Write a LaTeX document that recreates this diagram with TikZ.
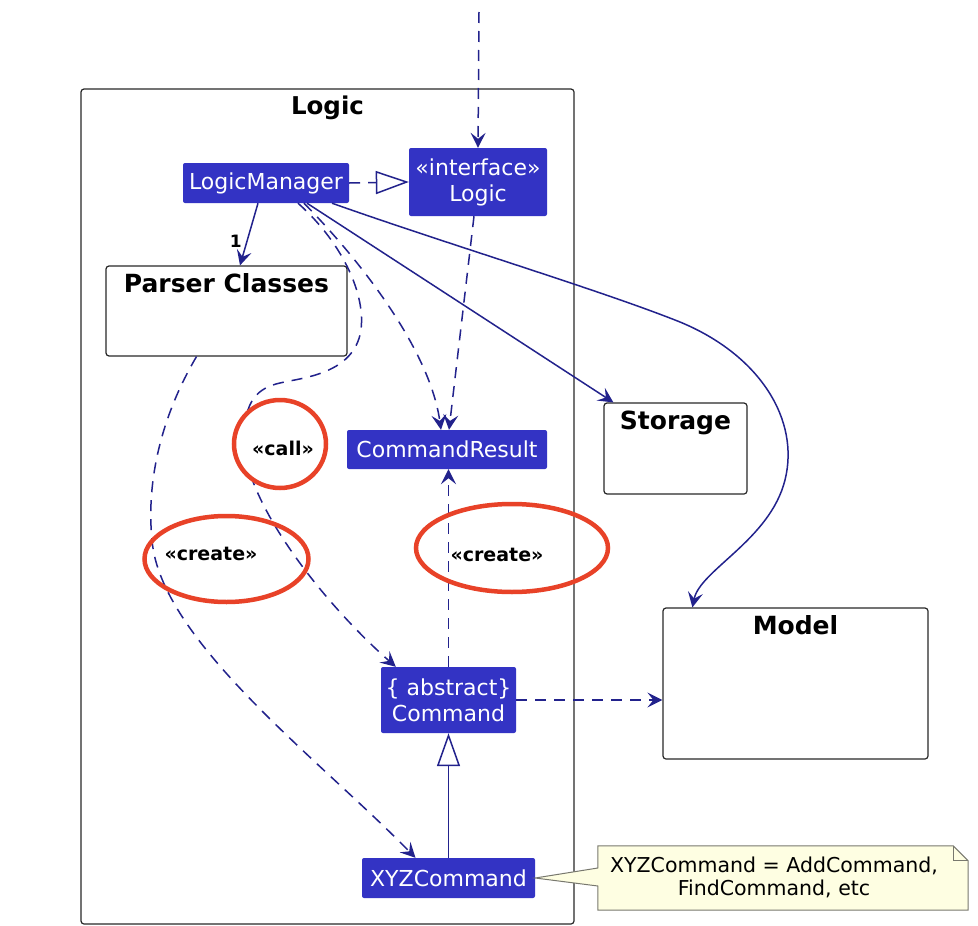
\documentclass[tikz,border=0pt]{standalone}
\usepackage{fontspec}
\setmainfont{DejaVu Sans}
\usetikzlibrary{arrows.meta,positioning,calc}
\definecolor{logicblue}{RGB}{51,51,196}
\definecolor{arrowblue}{RGB}{34,34,140}
\definecolor{notefill}{RGB}{254,254,226}
\definecolor{noteline}{RGB}{120,120,110}
\definecolor{ringred}{RGB}{232,66,40}
\definecolor{pkgline}{RGB}{40,40,40}
\tikzset{
  >={Stealth[length=15pt,width=15pt,inset=6pt]},
  cls/.style={fill=logicblue, text=white, rounded corners=2pt, inner sep=1pt,
    font=\fontsize{22}{26}\selectfont, align=center},
  pkg/.style={draw=pkgline, line width=1.2pt, rounded corners=3pt, fill=white},
  pkgtitle/.style={font=\fontsize{25}{30}\selectfont\bfseries, anchor=base, inner sep=0pt},
  assoc/.style={draw=arrowblue, line width=1.5pt, ->},
  dep/.style={assoc, dash pattern=on 11pt off 8pt},
  inherit/.style={draw=arrowblue, line width=1.5pt, -{Triangle[length=33pt,width=23pt,fill=white]}},
  stereo/.style={font=\fontsize{19}{22}\selectfont\bfseries, inner sep=0pt},
  redring/.style={draw=ringred, line width=4.5pt},
}
\newcommand{\clsbox}[5]{\node[cls, minimum width=#3, minimum height=#4] (#1) at (#2) {#5};}
\newcommand{\pkgbox}[5]{
  \node[pkg, minimum width=#3, minimum height=#4] (#1) at (#2) {};
  \node[pkgtitle] (#1title) at ([yshift=-27pt]#1.north) {#5};
}

\begin{document}
\begin{tikzpicture}[x=1pt,y=-1pt]
\useasboundingbox (0,0) rectangle (978,926);
\node[pkg, minimum width=493, minimum height=835] (logicpkg) at (327.5,506.5) {};
\node[pkgtitle, font=\fontsize{24.5}{30}\selectfont\bfseries] (logicpkgtitle) at ([yshift=-26pt]logicpkg.north) {Logic};
\pkgbox{parser}{226.5,311}{241}{90}{Parser Classes}
\pkgbox{storage}{675.5,448.5}{143}{91}{Storage}
\pkgbox{model}{795.5,683.5}{265}{151}{Model}
\clsbox{lm}{266,183}{166}{40}{LogicManager}
\clsbox{logic}{478,182}{138}{68}{«interface»\\Logic}
\clsbox{cr}{447,449.5}{200}{39}{CommandResult}
\clsbox{cmd}{448.5,700}{135}{66}{\{ abstract\}\\Command}
\clsbox{xyz}{448.5,878}{173}{40}{XYZCommand}
\coordinate (entry) at (479,12);

\draw[dep] (entry) -- (logic.north);
\draw[draw=arrowblue, line width=1.5pt, dash pattern=on 11pt off 8pt,
  -{Triangle[length=33pt,width=23pt,fill=white]}] (lm.east) -- (logic.west);
\draw[assoc] ([xshift=-8pt]lm.south) -- ([xshift=13.5pt]parser.north)
  node[pos=0.62, left=1pt, font=\fontsize{17}{20}\selectfont\bfseries, text=black] (one) {1};
\draw[assoc] ([xshift=41pt]lm.south) -- ([xshift=10pt]storage.north west);
\draw[assoc] ([xshift=66pt]lm.south) .. controls (450,245) and (600,290) .. (680,322)
  .. controls (760,355) and (800,420) .. (785,480)
  .. controls (770,540) and (700,570) .. ([xshift=30pt]model.north west);
\draw[dep] ([xshift=38pt]lm.south) .. controls (360,260) and (430,350) .. ([xshift=-6pt]cr.north);
\draw[dep] ([xshift=-4pt]logic.south) -- ([xshift=2pt]cr.north);
\draw[dep] ([xshift=32pt]lm.south) .. controls (345,245) and (368,300) .. (360,335)
  .. controls (350,375) and (300,378) .. (280,383)
  .. controls (258,388) and (244,400) .. (244,440)
  .. controls (244,500) and (320,600) .. ([xshift=15pt]cmd.north west);
\draw[dep] ([xshift=-30pt]parser.south) .. controls (162,415) and (146,480) .. (152,540)
  .. controls (160,640) and (320,760) .. ([xshift=-33pt]xyz.north);
\draw[dep] (cmd.north) -- (cmd.north |- cr.south);
\draw[dep] (cmd.east) -- (cmd.east -| model.west);
\draw[inherit] (xyz.north) -- (cmd.south);

\node[minimum width=370, minimum height=64, inner sep=0pt] (note) at (783,878) {};
\draw[noteline, line width=1pt, fill=notefill] (note.north west) -- ([xshift=-15pt]note.north east)
  -- ([yshift=-15pt]note.north east) -- (note.south east) -- (note.south west)
  -- ([yshift=-8pt]note.west) -- (xyz.east) -- ([yshift=10pt]note.west) -- cycle;
\draw[noteline, line width=1pt] ([xshift=-15pt]note.north east) -- ([xshift=-15pt,yshift=-15pt]note.north east)
  -- ([yshift=-15pt]note.north east);
\node[align=center, font=\fontsize{20.5}{23}\selectfont, inner sep=0pt] (notetext) at (774,877)
  {XYZCommand = AddCommand,\\FindCommand, etc};

\draw[redring, fill=white] (280,444) ellipse [x radius=46, y radius=44];
\draw[redring] (226.5,559) ellipse [x radius=82, y radius=43];
\draw[redring] (512,548) ellipse [x radius=96, y radius=44];
\node[stereo] (calllbl) at (283,448) {«call»};
\node[stereo] (createlbl) at (211,554) {«create»};
\node[stereo] (resultlbl) at (497,555) {«create»};
\end{tikzpicture}
\end{document}
